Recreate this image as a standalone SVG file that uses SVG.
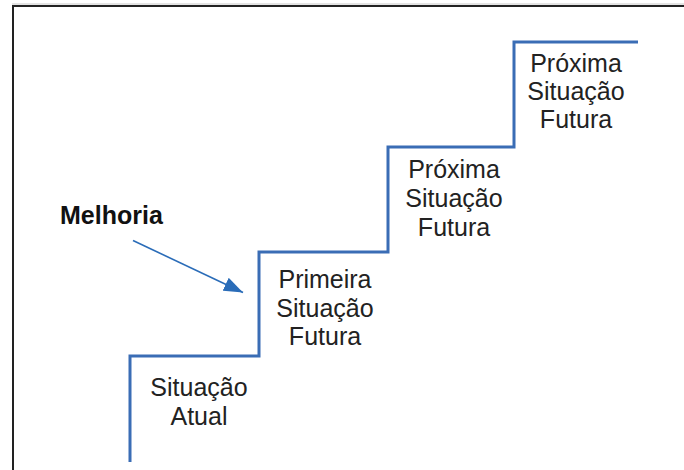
<svg xmlns="http://www.w3.org/2000/svg" width="684" height="470" viewBox="0 0 684 470">
  <style>
    .lbl { font-family: "Liberation Sans", Arial, sans-serif; font-size: 25px; fill: #222; text-anchor: middle; }
    .bold { font-weight: bold; text-anchor: start; fill: #111; }
    .stair { fill: none; stroke: #3a6db5; stroke-width: 3; stroke-linejoin: miter; }
  </style>
  <defs>
    <marker id="head" viewBox="0 0 10 10" refX="10" refY="5" markerWidth="12" markerHeight="9" markerUnits="strokeWidth" orient="auto" preserveAspectRatio="none">
      <path d="M0,0 L10,5 L0,10 Z" fill="#2a6cb8"/>
    </marker>
  </defs>
  <rect width="684" height="470" fill="#fff"/>

  <!-- frame -->
  <line x1="12" y1="4" x2="684" y2="4" stroke="#c8c8c8" stroke-width="1"/>
  <path d="M13,470 V6 H684" fill="none" stroke="#222" stroke-width="2"/>

  <g id="connectors">
    <!-- staircase -->
    <path class="stair" d="M130,462 V356 H259 V252 H388 V147 H514 V42 H638"/>
    <!-- improvement arrow -->
    <line x1="133" y1="240.5" x2="243" y2="292.5" stroke="#2a6cb8" stroke-width="1.6" marker-end="url(#head)"/>
  </g>

  <g id="melhoria">
    <text class="lbl bold" x="60" y="224">Melhoria</text>
  </g>

  <g id="situacao-atual">
    <text class="lbl" x="199" y="396">Situação</text>
    <text class="lbl" x="199" y="425">Atual</text>
  </g>

  <g id="primeira-situacao-futura">
    <text class="lbl" x="325" y="288">Primeira</text>
    <text class="lbl" x="325" y="317">Situação</text>
    <text class="lbl" x="325" y="345">Futura</text>
  </g>

  <g id="proxima-situacao-futura-1">
    <text class="lbl" x="454" y="178">Próxima</text>
    <text class="lbl" x="454" y="207">Situação</text>
    <text class="lbl" x="454" y="236">Futura</text>
  </g>

  <g id="proxima-situacao-futura-2">
    <text class="lbl" x="576" y="72">Próxima</text>
    <text class="lbl" x="576" y="100">Situação</text>
    <text class="lbl" x="576" y="128">Futura</text>
  </g>
</svg>
